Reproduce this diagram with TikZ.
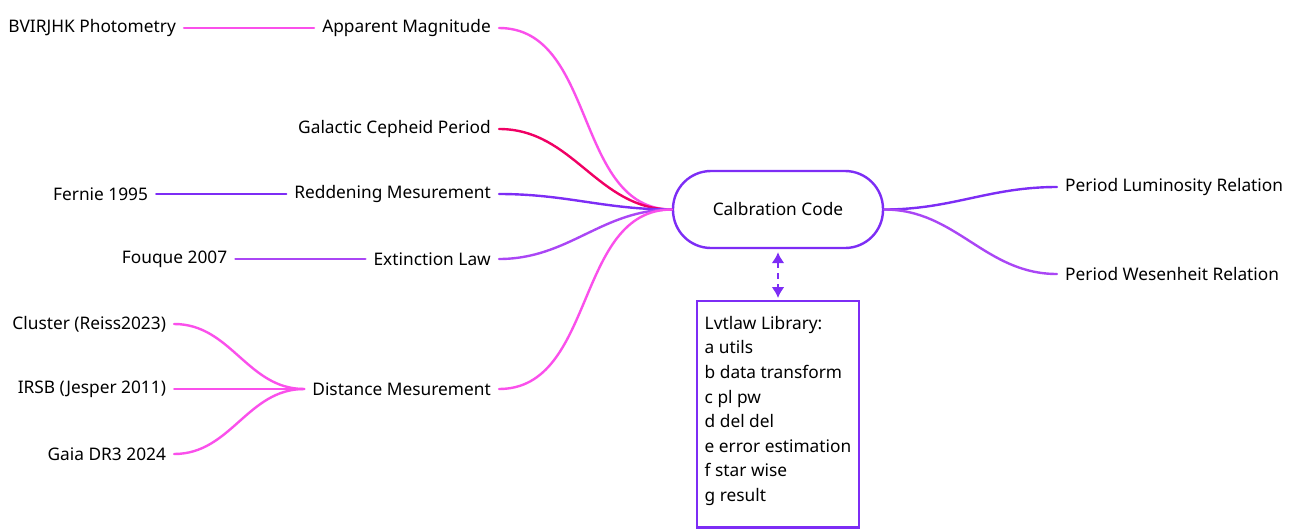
\documentclass[tikz,border=0pt]{standalone}
\usepackage{fontspec}
\setmainfont{Noto Sans}
\usetikzlibrary{positioning, arrows.meta}
\definecolor{mmpink}{RGB}{250,80,235}
\definecolor{mmred}{RGB}{240,0,100}
\definecolor{mmpurple}{RGB}{125,45,245}
\definecolor{mmviolet}{RGB}{170,70,245}

\begin{document}
\begin{tikzpicture}[
    x=1pt, y=-1pt,
    node distance=130pt,
    topic/.style={inner sep=8pt, font=\fontsize{17.3}{20}\selectfont},
    hub/.style={rectangle, draw=mmpurple, line width=2.4pt, rounded corners=38pt, minimum width=210pt, minimum height=77pt, font=\fontsize{17.3}{20}\selectfont},
    libbox/.style={rectangle, draw=mmpurple, line width=2.4pt, align=left, inner xsep=8pt, inner ysep=0pt, font=\fontsize{17.3}{24.6}\selectfont},
    link/.style={line width=2.4pt, line cap=round},
    branch/.style={out=0, in=180}
  ]
    \useasboundingbox (0,0) rectangle (1292,530);

    \node[hub] (calib) at (778,209.5) {Calbration Code};

    \node[topic, anchor=east] (appmag) at (499,28) {Apparent Magnitude};
    \node[topic, anchor=east] (galper) at (499,129) {Galactic Cepheid Period};
    \node[topic, anchor=east] (redd) at (499,194) {Reddening Mesurement};
    \node[topic, anchor=east] (extlaw) at (499,259) {Extinction Law};
    \node[topic, anchor=east] (dist) at (499,389) {Distance Mesurement};

    \node[topic, left=of appmag] (bvi) {BVIRJHK Photometry};
    \node[topic, left=of redd] (fernie) {Fernie 1995};
    \node[topic, left=of extlaw] (fouque) {Fouque 2007};
    \node[topic, left=of dist] (irsb) {IRSB (Jesper 2011)};
    \node[topic, anchor=east] (cluster) at ([yshift=65pt]irsb.east) {Cluster (Reiss2023)};
    \node[topic, anchor=east] (gaia) at ([yshift=-65pt]irsb.east) {Gaia DR3 2024};

    \node[topic, anchor=west] (plrel) at (1057,187) {Period Luminosity Relation};
    \node[topic, anchor=west] (pwrel) at (1057,274) {Period Wesenheit Relation};

    \node[libbox, anchor=north] (lib) at (778,300) {\rule{0pt}{28pt}Lvtlaw Library:\\
      a utils\\ b data transform\\ c pl pw\\ d del del\\ e error estimation\\ f star wise\\
      g result\rule[-26pt]{0pt}{26pt}};

    % leaves
    \draw[link, mmpink] (bvi) -- (appmag);
    \draw[link, mmpurple] (fernie) -- (redd);
    \draw[link, mmviolet] (fouque) -- (extlaw);
    \draw[link, mmpink] (cluster.east) to[branch] (dist.west);
    \draw[link, mmpink] (irsb) -- (dist);
    \draw[link, mmpink] (gaia.east) to[branch] (dist.west);

    % into the hub
    \draw[link, mmpink] (appmag.east) to[branch] (calib.west);
    \draw[link, mmred] (galper.east) to[branch] (calib.west);
    \draw[link, mmpurple] (redd.east) to[branch] (calib.west);
    \draw[link, mmviolet] (extlaw.east) to[branch] (calib.west);
    \draw[link, mmpink] (dist.east) to[branch] (calib.west);

    % out of the hub
    \draw[link, mmpurple] (calib.east) to[branch] (plrel.west);
    \draw[link, mmviolet] (calib.east) to[branch] (pwrel.west);

    \draw[mmpurple, line width=2pt, dash pattern=on 6pt off 5pt, {Latex[length=11pt,width=13pt]}-{Latex[length=11pt,width=13pt]}, shorten <=3pt, shorten >=2pt] (calib) -- (lib);
  \end{tikzpicture}
\end{document}
